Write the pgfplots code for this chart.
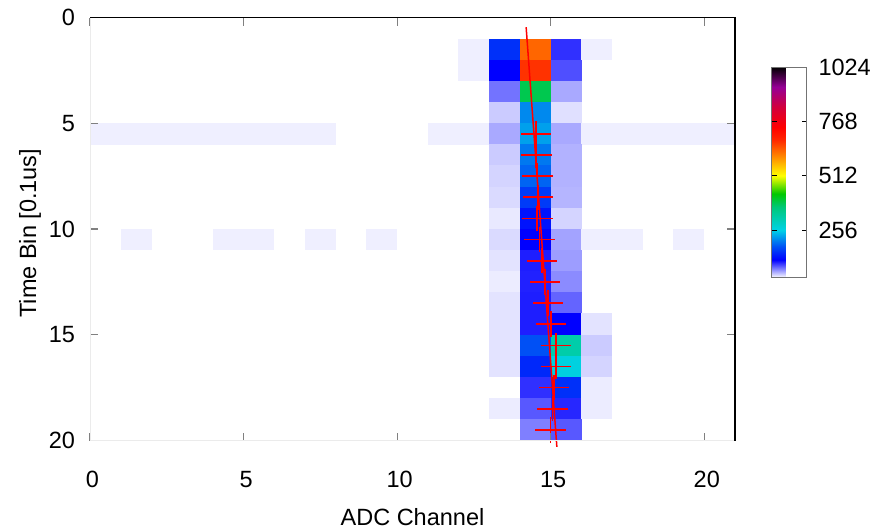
\documentclass[border=0pt]{standalone}
\usepackage{fontspec}
\setmainfont{Liberation Sans}
\usepackage{pgfplots}
\usepackage{pgfplotstable}
\pgfplotsset{compat=1.18}
\pgfdeclareplotmark{cell}{%
  \pgfpathrectangle{\pgfpoint{-15.45bp}{-10.68bp}}{\pgfpoint{30.9bp}{21.36bp}}%
  \pgfusepathqfill}
\pgfplotstableread{
x y v
12.5 1.5 37
13.5 1.5 153
14.5 1.5 630
15.5 1.5 100
16.5 1.5 37
12.5 2.5 37
13.5 2.5 116
14.5 2.5 672
15.5 2.5 90
13.5 3.5 78
14.5 3.5 386
15.5 3.5 60
13.5 4.5 49
14.5 4.5 212
15.5 4.5 42
0.5 5.5 37
1.5 5.5 37
2.5 5.5 37
3.5 5.5 37
4.5 5.5 37
5.5 5.5 37
6.5 5.5 37
7.5 5.5 37
11.5 5.5 37
12.5 5.5 37
13.5 5.5 60
14.5 5.5 226
15.5 5.5 60
16.5 5.5 37
17.5 5.5 37
18.5 5.5 37
19.5 5.5 37
20.5 5.5 37
13.5 6.5 49
14.5 6.5 202
15.5 6.5 57
13.5 7.5 46
14.5 7.5 190
15.5 7.5 57
13.5 8.5 44
14.5 8.5 162
15.5 8.5 56
13.5 9.5 39
14.5 9.5 131
15.5 9.5 46
1.5 10.5 37
4.5 10.5 37
5.5 10.5 37
7.5 10.5 37
9.5 10.5 37
13.5 10.5 44
14.5 10.5 116
15.5 10.5 62
16.5 10.5 37
17.5 10.5 37
19.5 10.5 37
13.5 11.5 41
14.5 11.5 106
15.5 11.5 64
13.5 12.5 38
14.5 12.5 105
15.5 12.5 70
13.5 13.5 41
14.5 13.5 106
15.5 13.5 83
13.5 14.5 41
14.5 14.5 106
15.5 14.5 116
16.5 14.5 41
13.5 15.5 41
14.5 15.5 178
15.5 15.5 315
16.5 15.5 49
13.5 16.5 41
14.5 16.5 147
15.5 16.5 262
16.5 16.5 46
14.5 17.5 100
15.5 17.5 153
16.5 17.5 38
13.5 18.5 38
14.5 18.5 87
15.5 18.5 103
16.5 18.5 38
14.5 19.5 74
15.5 19.5 87
}\cells
\pgfplotstableread{
x y ex ey
14.52 5.5 0.5 0.6
14.53 6.5 0.5 0.6
14.57 7.5 0.5 0.6
14.59 8.5 0.5 0.6
14.56 9.5 0.5 0.6
14.64 10.5 0.5 0.6
14.72 11.5 0.5 0.6
14.81 12.5 0.5 0.6
14.91 13.5 0.5 0.6
15.01 14.5 0.5 0.6
15.17 15.5 0.5 0.6
15.17 16.5 0.5 0.6
15.11 17.5 0.5 0.6
15.06 18.5 0.5 0.6
14.99 19.5 0.5 0.6
}\hits
\begin{document}
\fontsize{23.5bp}{28bp}\selectfont
\begin{tikzpicture}
\useasboundingbox (0,0) rectangle (888bp,529bp);
\begin{axis}[
  at={(90bp,88.5bp)}, anchor=south west,
  scale only axis, width=645bp, height=423bp,
  xmin=0, xmax=21, ymin=0, ymax=20, y dir=reverse,
  clip=false, clip marker paths=true, axis on top,
  xtick={0,5,10,15,20}, ytick={0,5,10,15,20},
  tick pos=both, tick align=inside,
  xticklabel pos=bottom, yticklabel pos=left,
  major tick length=8bp,
  major tick style={black!50, line width=1.2bp},
  axis line style={black!8, line width=0.8bp},
  /pgf/number format/assume math mode=true,
  /pgf/number format/1000 sep={},
  tick label style={font=\fontsize{23.5bp}{28bp}\selectfont},
  xticklabel style={yshift=-23bp, xshift=2.5bp},
  yticklabel style={xshift=-7bp},
  label style={font=\fontsize{23.5bp}{28bp}\selectfont},
  xlabel={ADC Channel},
  ylabel={Time Bin [0.1us]},
  xlabel style={at={(axis description cs:0.5,-0.181)}, anchor=center},
  ylabel style={at={(axis description cs:-0.093,0.49)}, anchor=center, rotate=0},
  colormap={heat}{rgb255(35pt)=(245,245,255) rgb255(116pt)=(0,0,255)
    rgb255(178pt)=(0,80,245) rgb255(256pt)=(0,210,230) rgb255(365pt)=(0,200,120)
    rgb255(427pt)=(0,200,0) rgb255(512pt)=(255,255,0) rgb255(600pt)=(255,140,0)
    rgb255(680pt)=(255,40,0) rgb255(740pt)=(255,0,0) rgb255(835pt)=(210,0,60)
    rgb255(930pt)=(150,0,150) rgb255(1024pt)=(0,0,0)},
  point meta min=35, point meta max=1024,
  colorbar,
  colorbar style={
    at={(parent axis.north east)}, anchor=north west,
    xshift=28bp, yshift=-49.5bp,
    width=35bp, height=210bp,
    ytick={256,512,768,1024},
    ytick pos=both, yticklabel pos=right,
    tick align=inside,
    major tick length=5bp,
    major tick style={black, line width=0.8bp},
    axis line style={black!55, line width=0.7bp},
    /pgf/number format/assume math mode=true,
    /pgf/number format/1000 sep={},
    yticklabel style={font=\fontsize{23.5bp}{28bp}\selectfont, xshift=4bp},
  },
  after end axis/.code={
    \draw[black, line width=1.5bp] (axis cs:0,0) -- (axis cs:21,0) -- (axis cs:21,20);
  },
]
\addplot[scatter, only marks, mark=cell, scatter src=explicit]
  table[x=x, y=y, meta=v] {\cells};
\addplot[red, line width=1.5bp, mark=none] coordinates {(14.2,0.46) (15.2,20.3)};
\addplot[red, draw=none, mark=none,
  error bars/.cd, x dir=both, x explicit, y dir=both, y explicit,
  error mark=none, error bar style={draw=red, line width=1.6bp}]
  table[x=x, y=y, x error=ex, y error=ey] {\hits};
\end{axis}
\end{tikzpicture}
\end{document}
